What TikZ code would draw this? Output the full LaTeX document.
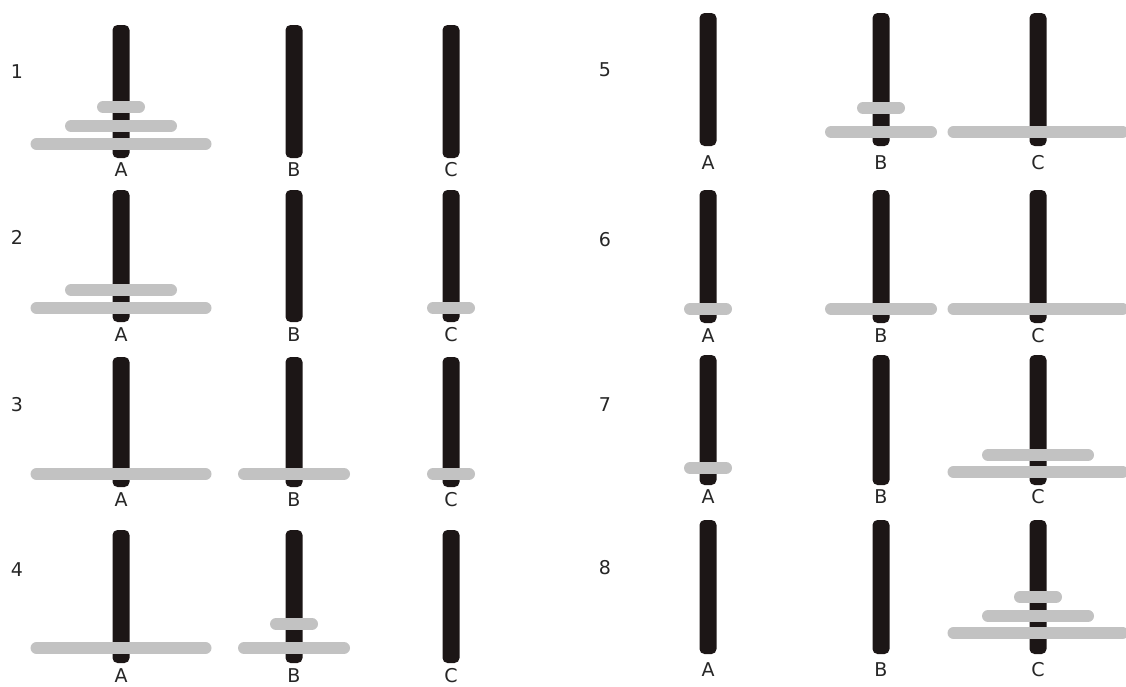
\documentclass[tikz,border=0pt]{standalone}
\usepackage{fontspec}
\setmainfont{DejaVu Sans}
\definecolor{pegc}{HTML}{1C1616}
\definecolor{diskc}{HTML}{C2C2C2}
\newcommand\hanoiPeg[3]{\fill[pegc, rounded corners=5pt] ({#1-8.5},#2) rectangle ({#1+8.5},#3);}
\newcommand\hanoiDisk[3]{\draw[disk] ({#1-#3+6},#2) -- ({#1+#3-6},#2);}
\begin{document}
\begin{tikzpicture}[x=1pt,y=-1pt,
  disk/.style={line width=12pt, draw=diskc, line cap=round},
  lab/.style={font=\fontsize{19}{19}\selectfont, inner sep=0pt, text=black!85}]
\useasboundingbox (0,0) rectangle (1126,686);
\clip (0,0) rectangle (1126,686);
% ---- pegs, left panel (A=121, B=294, C=451)
\foreach \t/\b in {25/158, 190/322, 357/487, 530/663}{
  \hanoiPeg{121}{\t}{\b}
  \hanoiPeg{294}{\t}{\b}
  \hanoiPeg{451}{\t}{\b}
}
% ---- pegs, right panel (A=708, B=881, C=1038)
\foreach \t/\b in {13/146, 190/323, 355/485, 520/654}{
  \hanoiPeg{708}{\t}{\b}
  \hanoiPeg{881}{\t}{\b}
  \hanoiPeg{1038}{\t}{\b}
}
% ---- disks (half widths: large 90.5, medium 56, small 24)
% row 1
\hanoiDisk{121}{107}{24}
\hanoiDisk{121}{126}{56}
\hanoiDisk{121}{144}{90.5}
% row 2
\hanoiDisk{121}{290}{56}
\hanoiDisk{121}{308}{90.5}
\hanoiDisk{451}{308}{24}
% row 3
\hanoiDisk{121}{474}{90.5}
\hanoiDisk{294}{474}{56}
\hanoiDisk{451}{474}{24}
% row 4
\hanoiDisk{121}{648}{90.5}
\hanoiDisk{294}{648}{56}
\hanoiDisk{294}{624}{24}
% row 5
\hanoiDisk{881}{108}{24}
\hanoiDisk{881}{132}{56}
\hanoiDisk{1038}{132}{90.5}
% row 6
\hanoiDisk{708}{309}{24}
\hanoiDisk{881}{309}{56}
\hanoiDisk{1038}{309}{90.5}
% row 7
\hanoiDisk{708}{468}{24}
\hanoiDisk{1038}{455}{56}
\hanoiDisk{1038}{472}{90.5}
% row 8
\hanoiDisk{1038}{597}{24}
\hanoiDisk{1038}{616}{56}
\hanoiDisk{1038}{633}{90.5}
% ---- peg labels
\foreach \y [count=\i] in {170,335,500,676}{
  \node[lab] (la\i) at (121,\y) {A};
  \node[lab] (lb\i) at (294,\y) {B};
  \node[lab] (lc\i) at (451,\y) {C};
}
\foreach \y [count=\i from 5] in {163,336,497,670}{
  \node[lab] (la\i) at (708,\y) {A};
  \node[lab] (lb\i) at (881,\y) {B};
  \node[lab] (lc\i) at (1038,\y) {C};
}
% ---- step numbers
\node[lab] (n1) at (17,72) {1};
\node[lab] (n2) at (17,237) {2};
\node[lab] (n3) at (17,405) {3};
\node[lab] (n4) at (17,570) {4};
\node[lab] (n5) at (605,70) {5};
\node[lab] (n6) at (605,240) {6};
\node[lab] (n7) at (605,405) {7};
\node[lab] (n8) at (605,568) {8};
\end{tikzpicture}
\end{document}
